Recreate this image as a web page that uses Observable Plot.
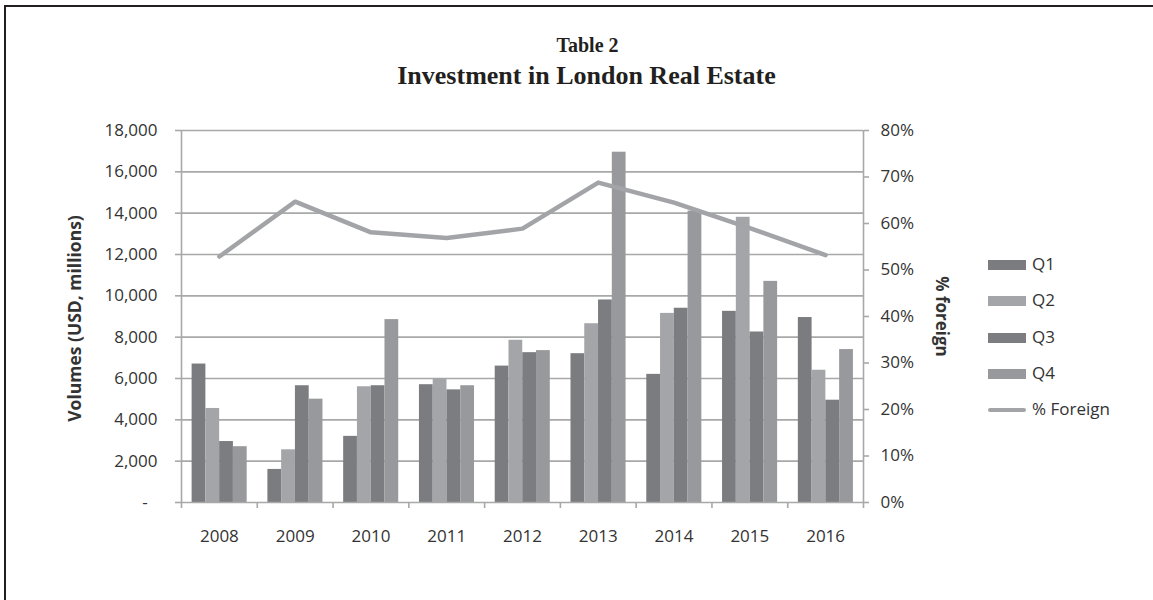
<!DOCTYPE html>
<html><head><meta charset="utf-8">
<script src="https://cdn.jsdelivr.net/npm/d3@7"></script>
<script src="https://cdn.jsdelivr.net/npm/@observablehq/plot@0.6"></script>
<style>
html,body{margin:0;padding:0;background:#fff;overflow:hidden;width:1153px;height:600px}
#page{position:relative;width:1153px;height:600px;overflow:hidden;background:#fff}
#frame{position:absolute;left:4px;top:5px;width:1300px;height:800px;border-left:2px solid #231f20;border-top:2px solid #231f20;box-sizing:border-box;pointer-events:none;z-index:3}
#title{position:relative;height:100px;font-family:"Liberation Serif","DejaVu Serif",serif;font-weight:bold;color:#231f20;text-align:center}
#t1{position:absolute;left:11px;width:1153px;top:33px;font-size:20px;line-height:24px}
#t2{position:absolute;left:10px;width:1153px;top:61px;font-size:26px;line-height:30px}
#chart svg{display:block}
#legend{position:absolute;left:988px;top:0;font-family:"Open Sans",sans-serif;font-size:17px;color:#333}
.item{position:absolute;left:0;height:20px;white-space:nowrap}
.sw{position:absolute;left:0;width:38px;height:10px;top:5px}
.ln{position:absolute;left:0;width:38px;height:4px;top:8px;border-radius:2px}
.lab{position:absolute;left:44px;top:-3px;line-height:24px}
</style></head>
<body><div id="page">
<div id="frame"></div>
<div id="title"><div id="t1">Table 2</div><div id="t2">Investment in London Real Estate</div></div>
<div id="chart"></div>
<div id="legend"></div>
</div>
<script>
const years = ["2008","2009","2010","2011","2012","2013","2014","2015","2016"];
const q1 = [6700, 1600, 3200, 5700, 6600, 7200, 6200, 9250, 8950];
const q2 = [4550, 2550, 5600, 6000, 7850, 8650, 9150, 13800, 6400];
const q3 = [2950, 5650, 5650, 5450, 7250, 9800, 9400, 8250, 4950];
const q4 = [2700, 5000, 8850, 5650, 7350, 16950, 14100, 10700, 7400];
const pctForeign = [52.9, 64.7, 58.1, 56.9, 58.9, 68.8, 64.5, 59.0, 53.2];
const quarters = ["Q1", "Q2", "Q3", "Q4"];
const lineName = "% Foreign";
const leftTicks = d3.range(0, 18001, 2000);
const rightTicks = d3.range(0, 81, 10);
const leftTitle = "Volumes (USD, millions)";
const rightTitle = "% foreign";

const quarterColors = ["#7b7c80", "#a4a5a8", "#7c7d81", "#98999c"];
const lineColor = "#a3a4a7";
const axisColor = "#a8a8a8";
const textColor = "#333";

const volMax = 18000, pctMax = 80, k = volMax / pctMax;
const W = 1153, H = 500, mL = 181, mR = 290, mT = 30, mB = 98;
const bw = (W - mL - mR) / years.length;
const g0 = 0.14, br = 0.1817;

const series = [q1, q2, q3, q4];
const barMarks = series.map((s, q) => Plot.barY(
  years.map((yr, i) => ({year: yr, quarter: quarters[q], value: s[i]})),
  {x: "year", y: "value", fill: quarterColors[q],
   insetLeft: bw * (g0 + q * br), insetRight: bw * (1 - g0 - (q + 1) * br)}
));
const lineData = years.map((yr, i) => ({year: yr, pct: pctForeign[i]}));

const chart = Plot.plot({
  width: W, height: H, marginLeft: mL, marginRight: mR, marginTop: mT, marginBottom: mB,
  style: {fontFamily: "'Open Sans', sans-serif", fontSize: "17px", color: textColor, background: "transparent"},
  x: {type: "band", domain: years, padding: 0, round: false},
  y: {domain: [0, volMax]},
  marks: [
    Plot.ruleY(leftTicks.slice(1), {stroke: axisColor, strokeWidth: 1.6}),
    ...barMarks,
    Plot.ruleY([0], {stroke: axisColor, strokeWidth: 1.6}),
    Plot.ruleX(years, {x: d => d, dx: -bw / 2, y1: 0, y2: 0, insetBottom: -6, stroke: axisColor, strokeWidth: 1.6}),
    Plot.ruleX([years[years.length - 1]], {x: d => d, dx: bw / 2, y1: 0, y2: 0, insetBottom: -6, stroke: axisColor, strokeWidth: 1.6}),
    Plot.ruleX([years[0]], {x: d => d, dx: -bw / 2, stroke: axisColor, strokeWidth: 1.6}),
    Plot.ruleX([years[years.length - 1]], {x: d => d, dx: bw / 2, stroke: axisColor, strokeWidth: 1.6}),
    Plot.axisY(leftTicks, {anchor: "left", tickSize: 6, tickPadding: 18, stroke: axisColor, strokeWidth: 1.6, fill: textColor, fontSize: 17, label: null,
      tickFormat: v => v === 0 ? "-\u2007" : d3.format(",")(v)}),
    Plot.axisY(rightTicks.map(p => p * k), {anchor: "right", tickSize: 5, tickPadding: 12, stroke: axisColor, strokeWidth: 1.6, fill: textColor, fontSize: 17, label: null,
      tickFormat: v => Math.round(v / k) + "%"}),
    Plot.axisX({anchor: "bottom", tickSize: 0, tickPadding: 27, fill: textColor, fontSize: 17, label: null}),
    Plot.line(lineData, {x: "year", y: d => d.pct * k, stroke: lineColor, strokeWidth: 4.5}),
    Plot.text([leftTitle], {text: d => d, frameAnchor: "left", dx: -106, dy: 2, rotate: -90, textAnchor: "middle", fontWeight: "bold", fontSize: 17.5, fill: textColor}),
    Plot.text([rightTitle], {text: d => d, frameAnchor: "right", dx: 78, rotate: 90, textAnchor: "middle", fontWeight: "bold", fontSize: 17, fill: textColor})
  ]
});
document.getElementById("chart").appendChild(chart);

const legend = document.getElementById("legend");
const items = quarters.map((q, i) => ({label: q, color: quarterColors[i], line: false}))
  .concat([{label: lineName, color: lineColor, line: true}]);
items.forEach((it, i) => {
  const d = document.createElement("div");
  d.className = "item";
  d.style.top = (255 + i * 36.3) + "px";
  const s = document.createElement("div");
  s.className = it.line ? "ln" : "sw";
  s.style.background = it.color;
  const t = document.createElement("div");
  t.className = "lab";
  t.textContent = it.label;
  d.appendChild(s); d.appendChild(t);
  legend.appendChild(d);
});
</script>
</body></html>
